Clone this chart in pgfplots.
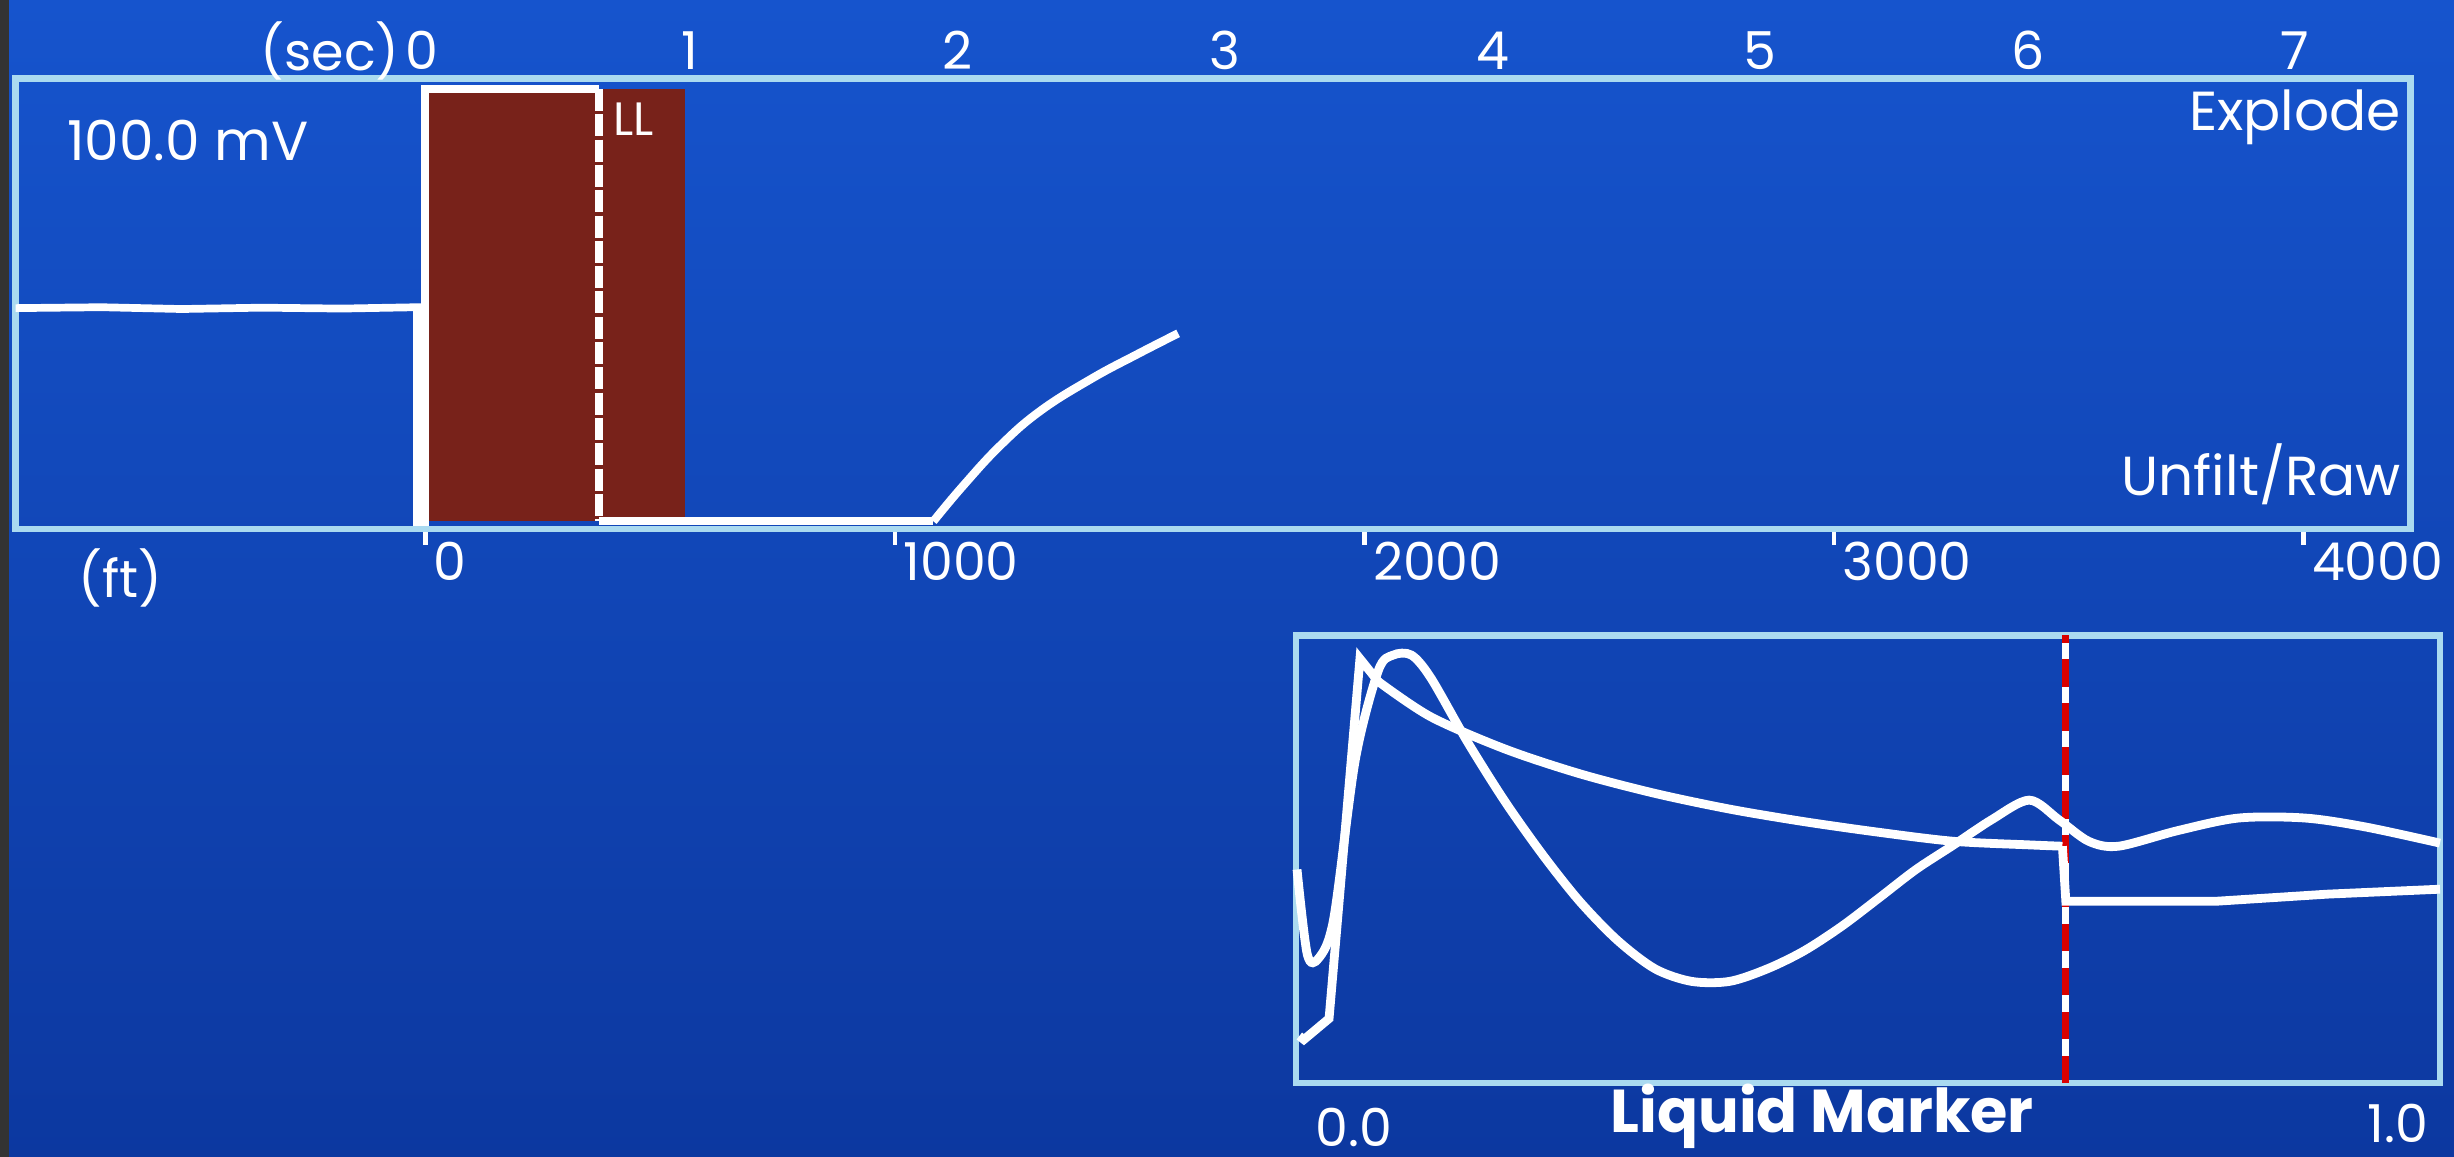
\documentclass[border=0pt]{standalone}
\usepackage{fontspec}
\setmainfont{Poppins}
\usepackage{pgfplots}
\pgfplotsset{compat=1.18}

\definecolor{scrbluetop}{RGB}{22,84,205}
\definecolor{scrbluebot}{RGB}{12,56,160}
\definecolor{framecol}{RGB}{170,218,240}
\definecolor{gatered}{RGB}{120,34,26}

\pgfplotsset{
  screen/.style={
    scale only axis,
    axis line style={framecol, line width=1.2pt},
    tick label style={white, font=\fontsize{9.5}{10}\selectfont},
    /pgf/number format/assume math mode=true,
    ytick=\empty,
    clip=false,
  },
}

\begin{document}
\begin{tikzpicture}
% screen background (picture is 15.68cm x 7.39cm)
\useasboundingbox (0,0) rectangle (15.68,7.39);
\shade[top color=scrbluetop, bottom color=scrbluebot] (0,0) rectangle (15.68,7.39);
\fill[black!80] (0,0) rectangle (0.06,7.39);

% upper panel, time axis (sec) on top
\begin{axis}[screen,
  at={(0.10cm,4.01cm)}, anchor=south west,
  width=15.30cm, height=2.88cm,
  xmin=-1.52, xmax=7.43, ymin=0, ymax=1,
  xtick={0,1,2,3,4,5,6,7},
  xticklabel pos=top,
  major tick length=0pt,
  xticklabel style={yshift=-2pt},
]
% gate area
\addplot[fill=gatered, draw=none] coordinates {(0.02,0.017) (0.98,0.017) (0.98,0.976) (0.02,0.976)} -- cycle;
% gate outline
\addplot[white, line width=1.5pt] coordinates {(0.01,0.0) (0.01,0.976) (0.66,0.976)};
\addplot[white, line width=1.5pt, dash pattern=on 4pt off 0.6pt] coordinates {(0.66,0.976) (0.66,0.017)};
% acoustic trace
\addplot[white, line width=1.4pt] coordinates {
  (-1.52,0.49) (-1.2,0.492) (-0.9,0.488) (-0.6,0.491) (-0.3,0.489) (-0.02,0.492)
  (-0.02,0.0)
};
\addplot[white, line width=1.5pt] coordinates {(0.66,0.017) (1.91,0.017)};
\addplot[white, line width=1.5pt, smooth, tension=0.7] coordinates {
  (1.91,0.017) (2.02,0.095) (2.16,0.185) (2.31,0.262)
  (2.50,0.333) (2.67,0.387) (2.825,0.434)
};
\node[white, anchor=east, font=\fontsize{9.5}{10}\selectfont, inner sep=1pt] at (axis cs:-0.06,1.06) {(sec)};
\node[white, anchor=north west, font=\fontsize{10}{11}\selectfont] at (axis cs:-1.40,0.95) {100.0 mV};
\node[white, anchor=north west, font=\fontsize{8.5}{9}\selectfont, inner sep=1pt] at (axis cs:0.69,0.96) {LL};
\node[white, anchor=north east, font=\fontsize{10}{11}\selectfont, inner sep=1pt] at (axis cs:7.42,0.99) {Explode};
\node[white, anchor=south east, font=\fontsize{10}{11}\selectfont, inner sep=1pt] at (axis cs:7.42,0.04) {Unfilt/Raw};
\end{axis}

% depth axis (ft) along the bottom of the upper panel
\begin{axis}[screen,
  at={(0.10cm,4.01cm)}, anchor=south west,
  width=15.30cm, height=2.88cm,
  xmin=-873, xmax=4227, ymin=0, ymax=1,
  hide y axis, axis x line*=bottom,
  xtick={0,1000,2000,3000,4000},
  xticklabel style={anchor=north west, xshift=-2pt, yshift=4pt},
  x tick style={white, line width=0.8pt},
  major tick length=0.1cm, tick align=outside,
  /pgf/number format/1000 sep={},
]
\addplot[draw=none] coordinates {(0,0)};
\node[white, anchor=north west, font=\fontsize{9.5}{10}\selectfont] at (axis cs:-780,-0.0) {(ft)};
\end{axis}

% liquid marker window
\begin{axis}[screen,
  at={(8.28cm,0.47cm)}, anchor=south west,
  width=7.31cm, height=2.86cm,
  xmin=0, xmax=1, ymin=0, ymax=1,
  xtick={0}, xticklabels={0.0},
  major tick length=0pt,
  xticklabel style={anchor=north west, yshift=-1pt},
]
\addplot[white, line width=1.3pt] coordinates {(0.673,0) (0.673,1)};
\addplot[red!85!black, line width=1.3pt, dash pattern=on 5pt off 3pt] coordinates {(0.673,0) (0.673,1)};
% first trace
\addplot[white, line width=1.6pt] coordinates {
  (0.003,0.105) (0.007,0.097) (0.029,0.144) (0.056,0.948) (0.072,0.897)};
\addplot[white, line width=1.6pt, smooth, tension=0.5] coordinates {
  (0.072,0.897)
  (0.118,0.818) (0.183,0.746) (0.248,0.691) (0.314,0.647) (0.379,0.612)
  (0.444,0.584) (0.510,0.560) (0.575,0.540) (0.641,0.532) (0.670,0.529)};
\addplot[white, line width=1.6pt] coordinates {
  (0.670,0.529) (0.673,0.406) (0.804,0.406) (0.902,0.422) (1.0,0.433)
};
% second trace
\addplot[white, line width=1.6pt, smooth, tension=0.5] coordinates {
  (0.001,0.477) (0.010,0.287) (0.020,0.279) (0.033,0.366) (0.052,0.723)
  (0.072,0.921) (0.085,0.956) (0.101,0.956) (0.118,0.905) (0.150,0.762)
  (0.183,0.628) (0.216,0.509) (0.248,0.406) (0.281,0.319) (0.314,0.255)
  (0.346,0.227) (0.379,0.227) (0.412,0.255) (0.444,0.295) (0.477,0.350)
  (0.510,0.414) (0.542,0.477) (0.575,0.532) (0.608,0.588) (0.641,0.632)
  (0.667,0.588) (0.693,0.540) (0.719,0.529) (0.771,0.564) (0.824,0.592)
  (0.882,0.592) (0.935,0.572) (1.0,0.536)
};
\node[white, anchor=north, font=\bfseries\fontsize{11}{12}\selectfont, inner sep=1pt, yshift=1pt] at (axis cs:0.46,0) {Liquid Marker};
\node[white, anchor=north east, font=\fontsize{9.5}{10}\selectfont, inner sep=2pt] at (axis cs:1.0,-0.02) {1.0};
\end{axis}
\end{tikzpicture}
\end{document}
